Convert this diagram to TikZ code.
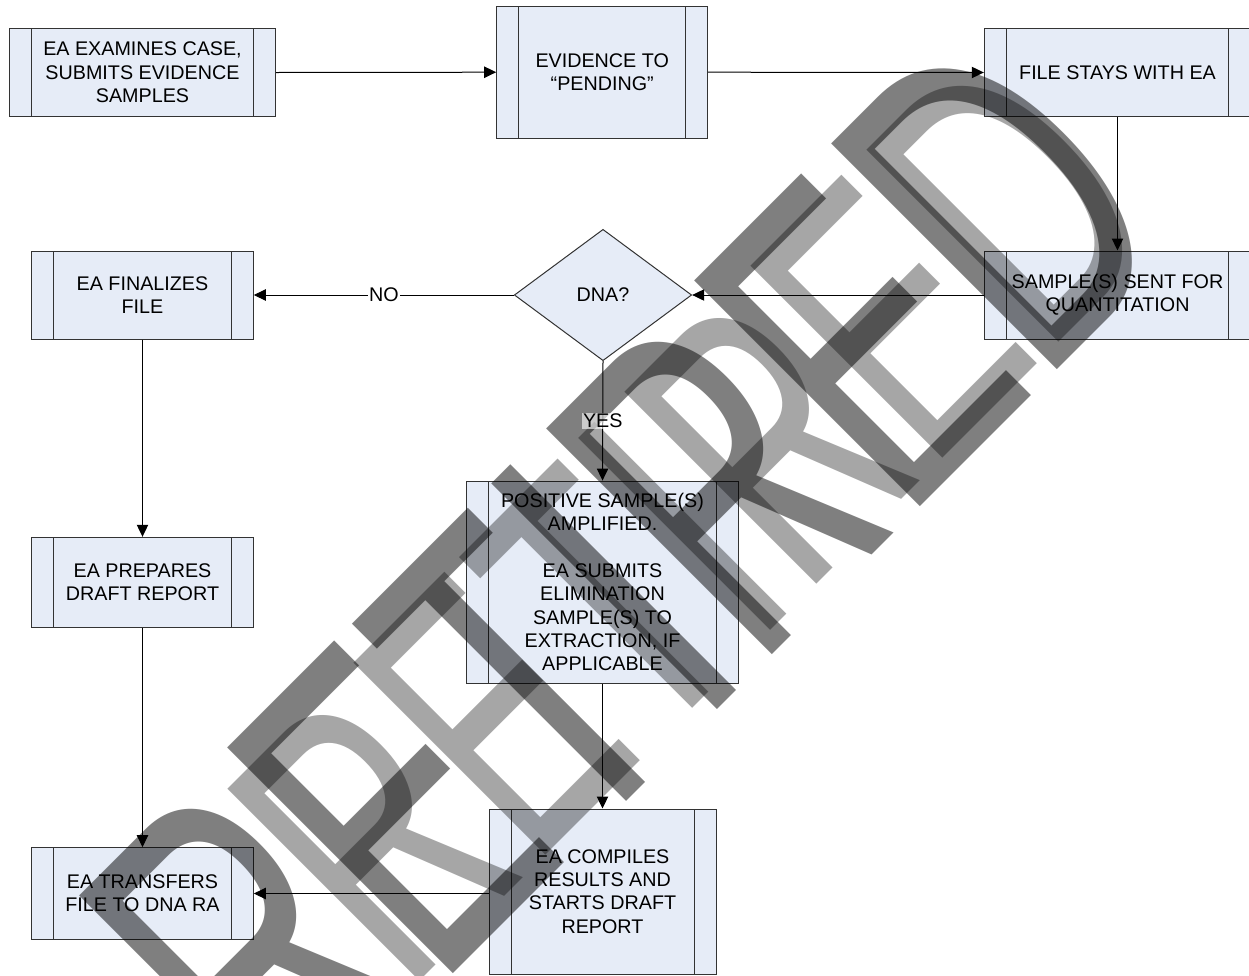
\documentclass[tikz,border=0pt]{standalone}
\usepackage{fontspec}
\setmainfont{Liberation Sans}
\usetikzlibrary{shapes.geometric,arrows.meta}
\definecolor{boxfill}{HTML}{E6ECF7}
\definecolor{boxline}{HTML}{333333}
\begin{document}
\begin{tikzpicture}[x=0.75pt,y=-0.75pt,
  every node/.style={font=\fontsize{14.8}{17.5}\selectfont},
  sub/.style={rectangle, draw=boxline, fill=boxfill, line width=0.75pt, align=center, inner sep=0pt,
    path picture={
      \draw[boxline, line width=0.75pt]
        ([xshift=16.5pt]path picture bounding box.north west) -- ([xshift=16.5pt]path picture bounding box.south west)
        ([xshift=-16.5pt]path picture bounding box.north east) -- ([xshift=-16.5pt]path picture bounding box.south east);
    }},
  dec/.style={diamond, draw=boxline, fill=boxfill, line width=0.75pt, inner sep=0pt, minimum width=133pt, minimum height=98.5pt},
  arr/.style={line width=0.75pt, -{Triangle[length=9pt,width=8.5pt]}},
  lbl/.style={fill=white, inner sep=1pt},
  wmark/.style={inner sep=0pt, anchor=base west, rotate=45, yscale=1.6}
]
\useasboundingbox (0,0) rectangle (1249,975);
\fill[white] (0,0) rectangle (1249,975);

\node[sub, minimum width=199.8pt, minimum height=66.3pt] (b1) at (142.5,72.5) {EA EXAMINES CASE,\\SUBMITS EVIDENCE\\SAMPLES};
\node[sub, minimum width=158.25pt, minimum height=99.2pt] (b2) at (602.2,72.2) {EVIDENCE TO\\“PENDING”};
\node[sub, minimum width=199.8pt, minimum height=66.3pt] (b3) at (1117.5,72.5) {FILE STAYS WITH EA};
\node[sub, minimum width=166.2pt, minimum height=66pt] (b4) at (142.5,295) {EA FINALIZES\\FILE};
\node[dec] (dna) at (603,295) {DNA?};
\node[sub, minimum width=199.8pt, minimum height=66pt] (b6) at (1117.5,295) {SAMPLE(S) SENT FOR\\QUANTITATION};
\node[sub, minimum width=203.7pt, minimum height=151.7pt] (b7) at (602.5,582.2) {POSITIVE SAMPLE(S)\\AMPLIFIED.\\[17.5pt]EA SUBMITS\\ELIMINATION\\SAMPLE(S) TO\\EXTRACTION, IF\\APPLICABLE};
\node[sub, minimum width=166.2pt, minimum height=67.5pt] (b8) at (142.5,582.3) {EA PREPARES\\DRAFT REPORT};
\node[sub, minimum width=166.2pt, minimum height=68.7pt] (b9) at (142.5,893.5) {EA TRANSFERS\\FILE TO DNA RA};
\node[sub, minimum width=170.25pt, minimum height=123.75pt] (b10) at (602.5,891.5) {EA COMPILES\\RESULTS AND\\STARTS DRAFT\\REPORT};

\draw[arr] (b1.east) -- (b2.west);
\draw[arr] (b2.east) -- (b3.west);
\draw[arr] (b3.south) -- (b6.north);
\draw[arr] (b6.west) -- (dna.east);
\draw[arr] (dna.west) -- node[lbl] {NO} (b4.east);
\draw[arr] (dna.south) -- coordinate[pos=0.5] (yespos) (b7.north);
\draw[arr] (b4.south) -- (b8.north);
\draw[arr] (b8.south) -- (b9.north);
\draw[arr] (b7.south) -- (b10.north);
\draw[arr] (b9.east -| b10.west) -- (b9.east);

\node[wmark, text opacity=0.5, font=\fontsize{217.5}{217.5}\selectfont] (wm1) at (288,1139) {RETIRED};
\node[wmark, text opacity=0.35, font=\fontsize{185}{185}\selectfont] (wm2) at (405,996) {RETIRED};

\node[lbl, fill opacity=0.6, text opacity=1] (yes) at (yespos) {YES};
\end{tikzpicture}
\end{document}
